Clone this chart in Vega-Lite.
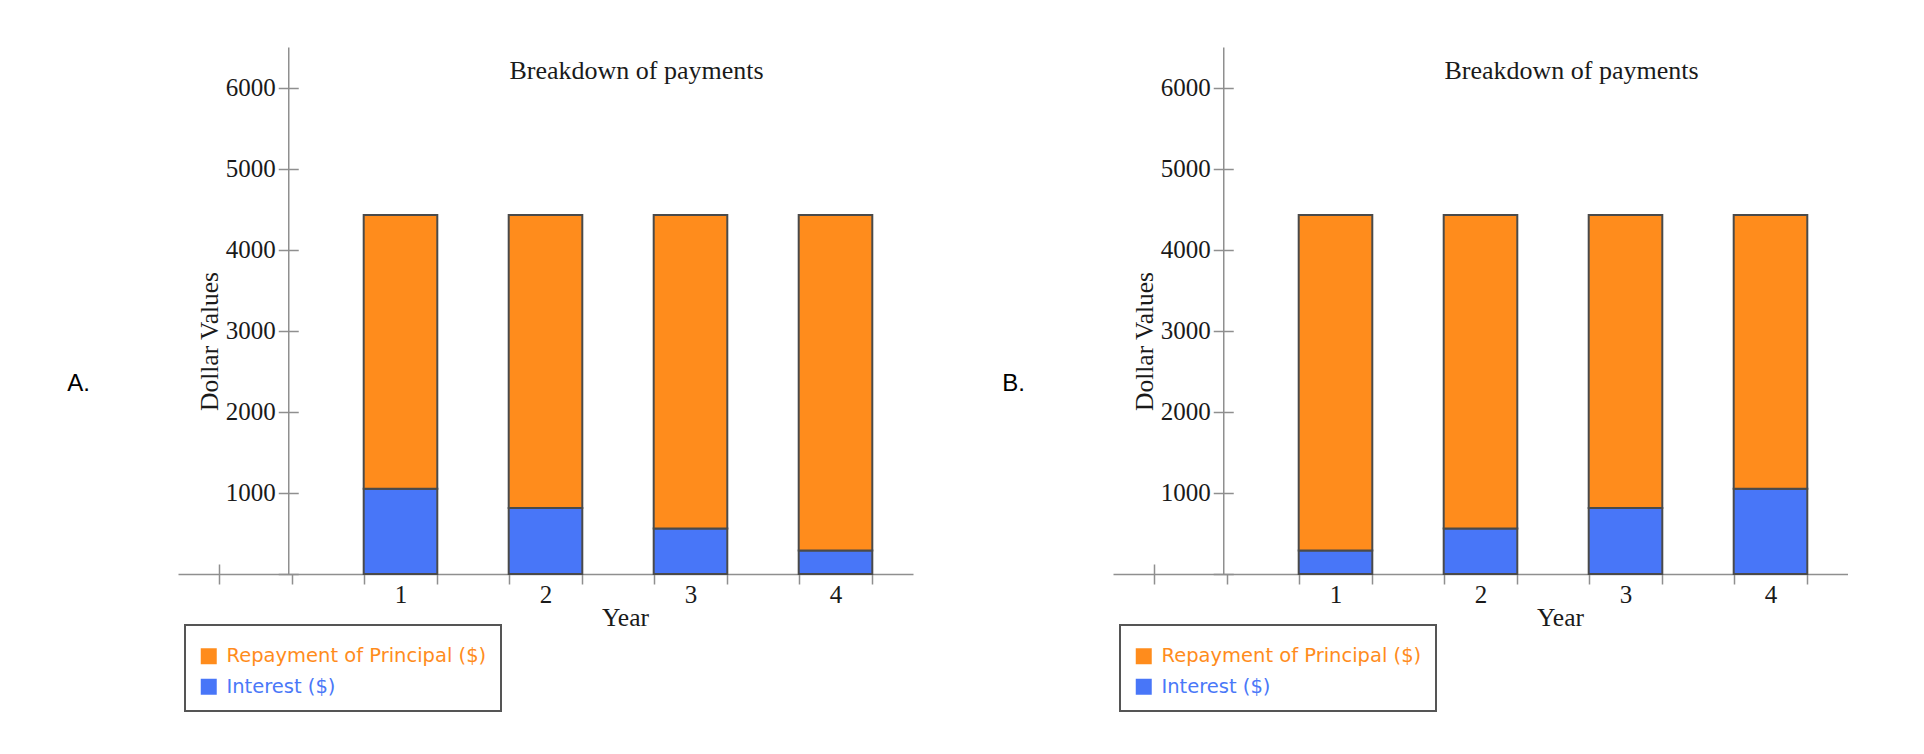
{
  "$schema": "https://vega.github.io/schema/vega-lite/v6.json",
  "padding": {"left": 66, "top": 47, "right": 0, "bottom": 0},
  "spacing": 88,
  "config": {
    "view": {"stroke": null},
    "axis": {"grid": false},
    "legend": {"strokeWidth": 2},
    "font": "Liberation Serif"
  },
  "datasets": {
    "payments": [
      {"panel": "A", "year": 1, "component": "Interest ($)", "amount": 1050.00},
      {"panel": "A", "year": 1, "component": "Repayment of Principal ($)", "amount": 3378.42},
      {"panel": "A", "year": 2, "component": "Interest ($)", "amount": 813.51},
      {"panel": "A", "year": 2, "component": "Repayment of Principal ($)", "amount": 3614.91},
      {"panel": "A", "year": 3, "component": "Interest ($)", "amount": 560.46},
      {"panel": "A", "year": 3, "component": "Repayment of Principal ($)", "amount": 3867.96},
      {"panel": "A", "year": 4, "component": "Interest ($)", "amount": 289.71},
      {"panel": "A", "year": 4, "component": "Repayment of Principal ($)", "amount": 4138.71},
      {"panel": "B", "year": 1, "component": "Interest ($)", "amount": 289.71},
      {"panel": "B", "year": 1, "component": "Repayment of Principal ($)", "amount": 4138.71},
      {"panel": "B", "year": 2, "component": "Interest ($)", "amount": 560.46},
      {"panel": "B", "year": 2, "component": "Repayment of Principal ($)", "amount": 3867.96},
      {"panel": "B", "year": 3, "component": "Interest ($)", "amount": 813.51},
      {"panel": "B", "year": 3, "component": "Repayment of Principal ($)", "amount": 3614.91},
      {"panel": "B", "year": 4, "component": "Interest ($)", "amount": 1050.00},
      {"panel": "B", "year": 4, "component": "Repayment of Principal ($)", "amount": 3378.42}
    ]
  },
  "resolve": {
    "scale": {"x": "independent", "y": "independent", "color": "independent"},
    "legend": {"color": "independent"}
  },
  "hconcat": [
    {
      "width": 735,
      "height": 527,
      "data": {"name": "payments"},
      "transform": [{"filter": "datum.panel === 'A'"}],
      "resolve": {"axis": {"x": "independent", "y": "independent"}},
      "layer": [
        {
          "mark": {"type": "bar", "size": 73.6, "stroke": "#4a4a4a", "strokeWidth": 2},
          "encoding": {
            "x": {
              "field": "year", "type": "quantitative",
              "scale": {"domain": [-0.5, 4.5], "nice": false, "zero": false},
              "axis": {
                "orient": "bottom",
                "values": [-0.25, 0.25, 0.75, 1, 1.25, 1.75, 2, 2.25, 2.75, 3, 3.25, 3.75, 4, 4.25],
                "labelExpr": "datum.value % 1 === 0 ? '' + datum.value : ''",
                "tickOpacity": {"condition": {"test": "datum.value % 1 === 0", "value": 0}, "value": 1},
                "domainColor": "#8f8f8f", "domainWidth": 1.5,
                "tickColor": "#8f8f8f", "tickWidth": 1.5, "tickSize": 10,
                "labelFont": "Liberation Serif", "labelFontSize": 25, "labelColor": "#1a1a1a",
                "labelPadding": -2, "labelFlush": false, "labelOverlap": false,
                "title": "Year", "titleFont": "Liberation Serif", "titleFontSize": 25.5, "titleFontWeight": "normal", "titleColor": "#1a1a1a",
                "titleX": 447, "titleY": 51, "titleBaseline": "alphabetic", "titleAlign": "center"
              }
            },
            "y": {
              "field": "amount", "type": "quantitative", "stack": "zero",
              "scale": {"domain": [0, 6500], "nice": false},
              "axis": {
                "orient": "left", "offset": -110.25,
                "values": [0, 1000, 2000, 3000, 4000, 5000, 6000],
                "format": "d",
                "labelExpr": "datum.value === 0 ? '' : datum.label",
                "domainColor": "#8f8f8f", "domainWidth": 1.5,
                "tickColor": "#8f8f8f", "tickWidth": 1.5, "tickSize": 10,
                "labelFont": "Liberation Serif", "labelFontSize": 25, "labelColor": "#1a1a1a",
                "labelPadding": 3, "labelFlush": false, "labelOverlap": false,
                "title": "Dollar Values", "titleFont": "Liberation Serif", "titleFontSize": 25.5, "titleFontWeight": "normal", "titleColor": "#1a1a1a",
                "titleX": -71, "titleY": 294, "titleAngle": 270, "titleBaseline": "alphabetic", "titleAlign": "center"
              }
            },
            "color": {
              "field": "component", "type": "nominal",
              "scale": {"domain": ["Repayment of Principal ($)", "Interest ($)"], "range": ["#FF8C1C", "#4876F8"]},
              "legend": {
                "orient": "none", "legendX": 7, "legendY": 578,
                "title": " ", "titleFontSize": 6, "titlePadding": 1.5,
                "direction": "vertical",
                "symbolType": "square", "symbolSize": 256, "symbolStrokeWidth": 0, "symbolOpacity": 1,
                "labelFont": "DejaVu Sans", "labelFontSize": 19.5, "labelOffset": 8, "labelLimit": 400,
                "labelColor": {"expr": "datum.value === 'Interest ($)' ? '#4A78F8' : '#FF8C1C'"},
                "rowPadding": 9.5, "padding": 14,
                "strokeColor": "#555555"
              }
            },
            "order": {"field": "component", "sort": "ascending"}
          }
        },
        {
          "mark": {"type": "point", "opacity": 0},
          "encoding": {
            "x": {
              "field": "year", "type": "quantitative",
              "axis": {
                "orient": "bottom", "offset": -10, "values": [-0.25],
                "domain": false, "labels": false,
                "tickColor": "#8f8f8f", "tickWidth": 1.5, "tickSize": 10,
                "title": "Breakdown of payments", "titleFont": "Liberation Serif", "titleFontSize": 26, "titleFontWeight": "normal", "titleColor": "#1a1a1a",
                "titleX": 458, "titleY": -486, "titleBaseline": "alphabetic", "titleAlign": "center"
              }
            },
            "y": {
              "field": "amount", "type": "quantitative",
              "axis": {
                "orient": "left", "offset": -120.25,
                "values": [0, 1000, 2000, 3000, 4000, 5000, 6000],
                "domain": false, "labels": false,
                "tickColor": "#8f8f8f", "tickWidth": 1.5, "tickSize": 10,
                "title": "A.", "titleFont": "Liberation Sans", "titleFontSize": 24, "titleFontWeight": "normal", "titleColor": "#000000",
                "titleX": -231.5, "titleY": 343, "titleAngle": 0, "titleBaseline": "alphabetic", "titleAlign": "left"
              }
            }
          }
        }
      ]
    },
    {
      "width": 735,
      "height": 527,
      "data": {"name": "payments"},
      "transform": [{"filter": "datum.panel === 'B'"}],
      "resolve": {"axis": {"x": "independent", "y": "independent"}},
      "layer": [
        {
          "mark": {"type": "bar", "size": 73.6, "stroke": "#4a4a4a", "strokeWidth": 2},
          "encoding": {
            "x": {
              "field": "year", "type": "quantitative",
              "scale": {"domain": [-0.5, 4.5], "nice": false, "zero": false},
              "axis": {
                "orient": "bottom",
                "values": [-0.25, 0.25, 0.75, 1, 1.25, 1.75, 2, 2.25, 2.75, 3, 3.25, 3.75, 4, 4.25],
                "labelExpr": "datum.value % 1 === 0 ? '' + datum.value : ''",
                "tickOpacity": {"condition": {"test": "datum.value % 1 === 0", "value": 0}, "value": 1},
                "domainColor": "#8f8f8f", "domainWidth": 1.5,
                "tickColor": "#8f8f8f", "tickWidth": 1.5, "tickSize": 10,
                "labelFont": "Liberation Serif", "labelFontSize": 25, "labelColor": "#1a1a1a",
                "labelPadding": -2, "labelFlush": false, "labelOverlap": false,
                "title": "Year", "titleFont": "Liberation Serif", "titleFontSize": 25.5, "titleFontWeight": "normal", "titleColor": "#1a1a1a",
                "titleX": 447, "titleY": 51, "titleBaseline": "alphabetic", "titleAlign": "center"
              }
            },
            "y": {
              "field": "amount", "type": "quantitative", "stack": "zero",
              "scale": {"domain": [0, 6500], "nice": false},
              "axis": {
                "orient": "left", "offset": -110.25,
                "values": [0, 1000, 2000, 3000, 4000, 5000, 6000],
                "format": "d",
                "labelExpr": "datum.value === 0 ? '' : datum.label",
                "domainColor": "#8f8f8f", "domainWidth": 1.5,
                "tickColor": "#8f8f8f", "tickWidth": 1.5, "tickSize": 10,
                "labelFont": "Liberation Serif", "labelFontSize": 25, "labelColor": "#1a1a1a",
                "labelPadding": 3, "labelFlush": false, "labelOverlap": false,
                "title": "Dollar Values", "titleFont": "Liberation Serif", "titleFontSize": 25.5, "titleFontWeight": "normal", "titleColor": "#1a1a1a",
                "titleX": -71, "titleY": 294, "titleAngle": 270, "titleBaseline": "alphabetic", "titleAlign": "center"
              }
            },
            "color": {
              "field": "component", "type": "nominal",
              "scale": {"domain": ["Repayment of Principal ($)", "Interest ($)"], "range": ["#FF8C1C", "#4876F8"]},
              "legend": {
                "orient": "none", "legendX": 7, "legendY": 578,
                "title": " ", "titleFontSize": 6, "titlePadding": 1.5,
                "direction": "vertical",
                "symbolType": "square", "symbolSize": 256, "symbolStrokeWidth": 0, "symbolOpacity": 1,
                "labelFont": "DejaVu Sans", "labelFontSize": 19.5, "labelOffset": 8, "labelLimit": 400,
                "labelColor": {"expr": "datum.value === 'Interest ($)' ? '#4A78F8' : '#FF8C1C'"},
                "rowPadding": 9.5, "padding": 14,
                "strokeColor": "#555555"
              }
            },
            "order": {"field": "component", "sort": "ascending"}
          }
        },
        {
          "mark": {"type": "point", "opacity": 0},
          "encoding": {
            "x": {
              "field": "year", "type": "quantitative",
              "axis": {
                "orient": "bottom", "offset": -10, "values": [-0.25],
                "domain": false, "labels": false,
                "tickColor": "#8f8f8f", "tickWidth": 1.5, "tickSize": 10,
                "title": "Breakdown of payments", "titleFont": "Liberation Serif", "titleFontSize": 26, "titleFontWeight": "normal", "titleColor": "#1a1a1a",
                "titleX": 458, "titleY": -486, "titleBaseline": "alphabetic", "titleAlign": "center"
              }
            },
            "y": {
              "field": "amount", "type": "quantitative",
              "axis": {
                "orient": "left", "offset": -120.25,
                "values": [0, 1000, 2000, 3000, 4000, 5000, 6000],
                "domain": false, "labels": false,
                "tickColor": "#8f8f8f", "tickWidth": 1.5, "tickSize": 10,
                "title": "B.", "titleFont": "Liberation Sans", "titleFontSize": 24, "titleFontWeight": "normal", "titleColor": "#000000",
                "titleX": -231.5, "titleY": 343, "titleAngle": 0, "titleBaseline": "alphabetic", "titleAlign": "left"
              }
            }
          }
        }
      ]
    }
  ]
}
